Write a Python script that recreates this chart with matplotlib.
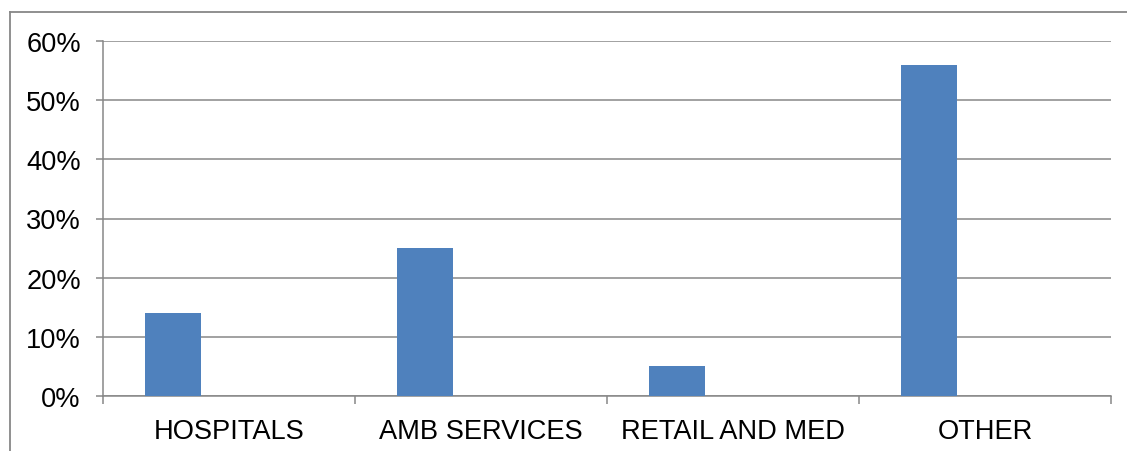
import matplotlib.pyplot as plt
from matplotlib.lines import Line2D
import numpy as np

plt.rcParams['font.family'] = ['Liberation Sans', 'DejaVu Sans']

categories = ['HOSPITALS', 'AMB SERVICES', 'RETAIL AND MED', 'OTHER']
shares = [14, 25, 5, 56]
y_ticks = [0, 10, 20, 30, 40, 50, 60]

gray = '#878787'
bar_w = 0.222

fig = plt.figure(figsize=(11.27, 4.52), dpi=100)
ax = fig.add_axes([103 / 1127, 1 - 397 / 452, (1111 - 103) / 1127, (397 - 42) / 452])

x = np.arange(len(categories))
ax.bar(x - bar_w, shares, width=bar_w, color='#4F81BD', zorder=3)

ax.set_xlim(-0.5, len(categories) - 0.5)
ax.set_ylim(0, 60)
ax.set_yticks(y_ticks)
ax.set_yticklabels([f'{v}%' for v in y_ticks])
ax.yaxis.grid(True, color=gray, linewidth=1.1, zorder=0)

# category boundaries as major ticks, labels on centres
ax.set_xticks(np.arange(len(categories) + 1) - 0.5)
ax.set_xticklabels([])
ax.set_xticks(x, minor=True)
ax.set_xticklabels(categories, minor=True)
ax.tick_params(axis='x', which='major', length=6, color=gray, width=1.1)
ax.tick_params(axis='x', which='minor', length=0, pad=16, labelsize=19.6)
ax.tick_params(axis='y', length=5, color=gray, width=1.1, pad=11, labelsize=19.6)

for side in ['top', 'right']:
    ax.spines[side].set_visible(False)
for side in ['left', 'bottom']:
    ax.spines[side].set_color(gray)
    ax.spines[side].set_linewidth(1.1)

# outer chart frame (only left and top edges visible)
fig.add_artist(Line2D([10 / 1127, 10 / 1127], [0, 1 - 13 / 452], color=gray, linewidth=1.3, transform=fig.transFigure))
fig.add_artist(Line2D([10 / 1127, 1], [1 - 13 / 452, 1 - 13 / 452], color=gray, linewidth=1.3, transform=fig.transFigure))

fig.savefig('out.png', dpi=100, facecolor='white')
